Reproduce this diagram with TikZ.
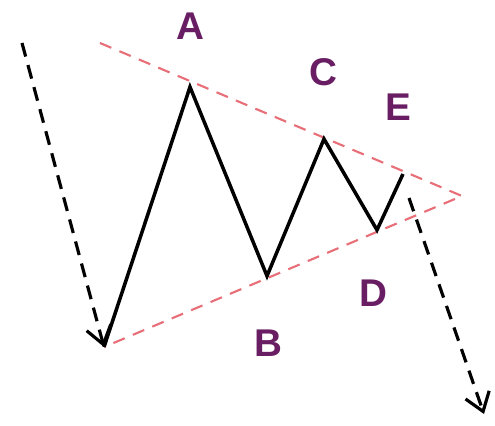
\documentclass[tikz,border=0pt]{standalone}
\usepackage{fontspec}
\setmainfont{Liberation Sans}
\usetikzlibrary{arrows.meta}
\definecolor{trendred}{RGB}{232,110,120}
\definecolor{labelpurple}{RGB}{105,30,100}
\begin{document}
\begin{tikzpicture}[x=0.02cm, y=-0.02cm,
  wave/.style={black, line width=2pt, line join=miter},
  trend/.style={trendred, line width=1.2pt, dash pattern=on 7pt off 5pt},
  breakout/.style={black, line width=1.8pt, dash pattern=on 8pt off 5pt,
    -{Straight Barb[length=3.5mm, width=5mm, line width=1.8pt]}},
  wavelabel/.style={labelpurple, font=\bfseries\fontsize{22}{24}\selectfont}]
  \useasboundingbox (0,0) rectangle (495,426);
  % turning points of the wave
  \coordinate (start) at (104,347);
  \coordinate (a) at (190,87);
  \coordinate (b) at (267,276);
  \coordinate (c) at (324,139);
  \coordinate (d) at (377,230);
  \coordinate (e) at (403,174);
  \coordinate (apex) at (462,196);
  \coordinate (top) at (100,43);
  % trend lines
  \draw[trend] (top) -- (apex) -- (start);
  % wave
  \draw[wave] (start) -- (a) -- (b) -- (c) -- (d) -- (e);
  % moves before and after
  \coordinate (inflow) at (22,43);
  \coordinate (outstart) at (409,198);
  \coordinate (outend) at (484,414);
  \draw[breakout] (inflow) -- (start);
  \draw[breakout] (outstart) -- (outend);
  % labels
  \node[wavelabel] (la) at (190,26) {A};
  \node[wavelabel] (lb) at (268,343) {B};
  \node[wavelabel] (lc) at (323,72) {C};
  \node[wavelabel] (ld) at (373,293) {D};
  \node[wavelabel] (le) at (398,107) {E};
\end{tikzpicture}
\end{document}
